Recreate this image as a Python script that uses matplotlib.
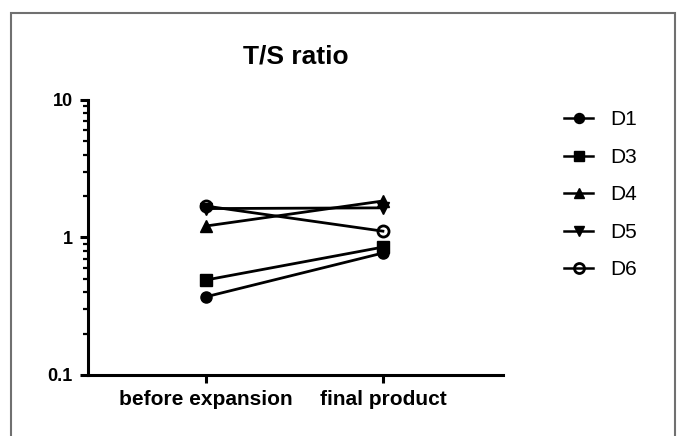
import numpy as np
import matplotlib
matplotlib.use('Agg')
from matplotlib import pyplot as plt
from matplotlib.patches import Rectangle

plt.rcParams['font.family'] = ['Liberation Sans', 'DejaVu Sans']

#data
groups = ['before expansion', 'final product']
donors = ['D1', 'D3', 'D4', 'D5', 'D6']
d1 = [0.37, 0.77]
d3 = [0.49, 0.85]
d4 = [1.21, 1.84]
d5 = [1.62, 1.64]
d6 = [1.69, 1.11]

series = [d1, d3, d4, d5, d6]
markers = ['o', 's', '^', 'v', 'o']
fills = ['full', 'full', 'full', 'full', 'none']

fig = plt.figure(figsize=(6.81, 4.36), dpi=100)
ax = fig.add_axes([0.129, 0.140, 0.610, 0.631])

x = np.arange(1, len(groups) + 1)
for vals, lab, m, f in zip(series, donors, markers, fills):
    ax.plot(x, vals, color='black', lw=2, marker=m, markersize=8,
            fillstyle=f, markeredgewidth=2 if f == 'none' else 1, label=lab)

ax.set_yscale('log')
ax.set_ylim(0.1, 10)
ax.set_xlim(0.333, 2.68)
ax.set_xticks(x)
ax.set_xticklabels(groups, fontsize=15, fontweight='bold')
ax.set_yticks([0.1, 1, 10])
ax.set_yticklabels(['0.1', '1', '10'], fontsize=13, fontweight='bold')

for s in ['top', 'right']:
    ax.spines[s].set_visible(False)
for s in ['left', 'bottom']:
    ax.spines[s].set_linewidth(2.2)
ax.tick_params(which='major', length=6, width=2.2, pad=5)
ax.tick_params(axis='x', which='major', pad=5)
ax.tick_params(which='minor', length=3.5, width=1.6)
ax.tick_params(axis='x', which='minor', bottom=False)

ax.set_title('T/S ratio', fontsize=19, fontweight='bold', pad=26)

leg = fig.legend(loc='upper left', bbox_to_anchor=(0.813, 0.771), frameon=False,
                 fontsize=15, handlelength=1.4, handletextpad=0.8, borderpad=0,
                 labelspacing=0.89, markerscale=0.9)
for h in leg.legend_handles:
    h.set_linewidth(1.8)

#outer gray frame
fig.patches.append(Rectangle((0.016, -0.1), 0.975, 1.07, transform=fig.transFigure,
                             fill=False, edgecolor='#707070', linewidth=1.5))

fig.savefig('out.png', dpi=100)
